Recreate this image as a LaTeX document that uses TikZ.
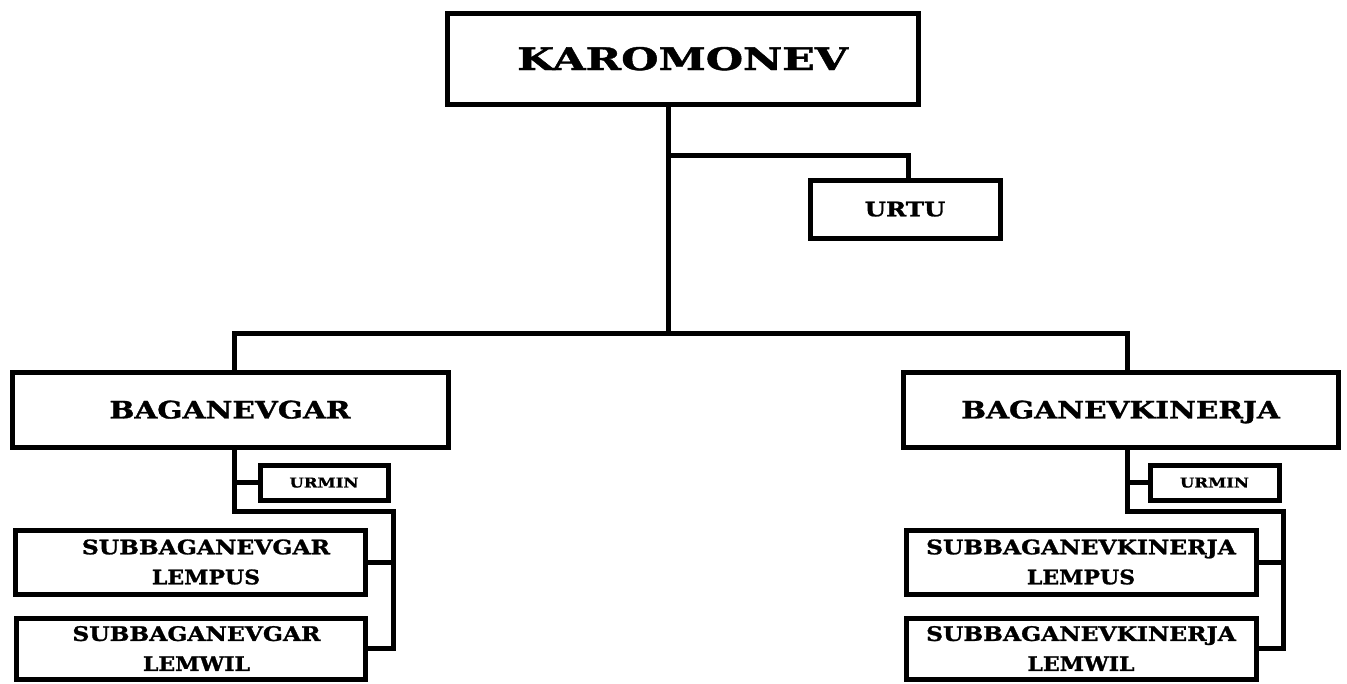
\documentclass[tikz,border=0pt]{standalone}
\usepackage{fontspec}
\setmainfont{DejaVu Serif}[BoldFeatures={FakeBold=1.2}]
\newcommand{\widetxt}[2]{\scalebox{#1}[1]{#2}}
\begin{document}
\begin{tikzpicture}[x=1pt,y=-1pt,line width=5pt,
  box/.style={draw=black,line width=5pt,rectangle,inner sep=0pt,align=center,font=\bfseries},
  oneline/.style={text depth=0pt},
  conn/.style={draw=black,line width=5pt,line join=miter}]
\useasboundingbox (0,0) rectangle (1347,683);
% boxes
\node[box,oneline,minimum width=471pt,minimum height=91pt,font=\bfseries\fontsize{31}{36}\selectfont] (karo) at (682.5,58.5) {\widetxt{1.38}{KAROMONEV}};
\node[box,oneline,minimum width=190pt,minimum height=58pt,font=\bfseries\fontsize{20}{24}\selectfont] (urtu) at (905,209) {\widetxt{1.22}{URTU}};
\node[box,oneline,minimum width=436pt,minimum height=75pt,font=\bfseries\fontsize{24}{28}\selectfont] (bag1) at (230,409.5) {\widetxt{1.23}{BAGANEVGAR}};
\node[box,oneline,minimum width=435pt,minimum height=75pt,font=\bfseries\fontsize{24}{28}\selectfont] (bag2) at (1120.5,409.5) {\widetxt{1.23}{BAGANEVKINERJA}};
\node[box,oneline,minimum width=128pt,minimum height=35pt,font=\bfseries\fontsize{13.5}{16}\selectfont] (urmin1) at (324,482.5) {\widetxt{1.22}{URMIN}};
\node[box,oneline,minimum width=129pt,minimum height=35pt,font=\bfseries\fontsize{13.5}{16}\selectfont] (urmin2) at (1214.5,482.5) {\widetxt{1.22}{URMIN}};
\node[box,minimum width=350pt,minimum height=64pt,font=\bfseries\fontsize{20}{30}\selectfont] (sub1a) at (190,562) {\hspace*{32pt}\widetxt{1.17}{SUBBAGANEVGAR}\\\hspace*{32pt}\widetxt{1.1}{LEMPUS}};
\node[box,minimum width=349pt,minimum height=61pt,font=\bfseries\fontsize{20}{30}\selectfont] (sub1b) at (190.5,648.5) {\hspace*{12pt}\widetxt{1.17}{SUBBAGANEVGAR}\\\hspace*{12pt}\widetxt{1.1}{LEMWIL}};
\node[box,minimum width=350pt,minimum height=64pt,font=\bfseries\fontsize{20}{30}\selectfont] (sub2a) at (1081,562) {\widetxt{1.17}{SUBBAGANEVKINERJA}\\\widetxt{1.1}{LEMPUS}};
\node[box,minimum width=350pt,minimum height=61pt,font=\bfseries\fontsize{20}{30}\selectfont] (sub2b) at (1081,648.5) {\widetxt{1.17}{SUBBAGANEVKINERJA}\\\widetxt{1.1}{LEMWIL}};
% helper coordinates
\coordinate (trunk) at (668,333);
\coordinate (urtuturn) at (668,155);
\coordinate (urtucol) at (908,155);
\coordinate (busL) at (234,333);
\coordinate (busR) at (1127,333);
\coordinate (lJ) at (234,511);
\coordinate (lR) at (393,511);
\coordinate (rJ) at (1127,511);
\coordinate (rR) at (1283,511);
% connectors
\draw[conn] (karo.south -| trunk) -- (trunk);
\draw[conn] (urtuturn) -- (urtucol) -- (urtu.north -| urtucol);
\draw[conn] (bag1.north -| busL) -- (busL) -- (busR) -- (bag2.north -| busR);
% left subtree
\draw[conn] (bag1.south -| lJ) -- (lJ) -- (lR) -- (sub1b.east -| lR) -- (sub1b.east);
\draw[conn] (urmin1.west -| lJ) -- (urmin1.west);
\draw[conn] (sub1a.east -| lR) -- (sub1a.east);
% right subtree
\draw[conn] (bag2.south -| rJ) -- (rJ) -- (rR) -- (sub2b.east -| rR) -- (sub2b.east);
\draw[conn] (urmin2.west -| rJ) -- (urmin2.west);
\draw[conn] (sub2a.east -| rR) -- (sub2a.east);
\end{tikzpicture}
\end{document}
